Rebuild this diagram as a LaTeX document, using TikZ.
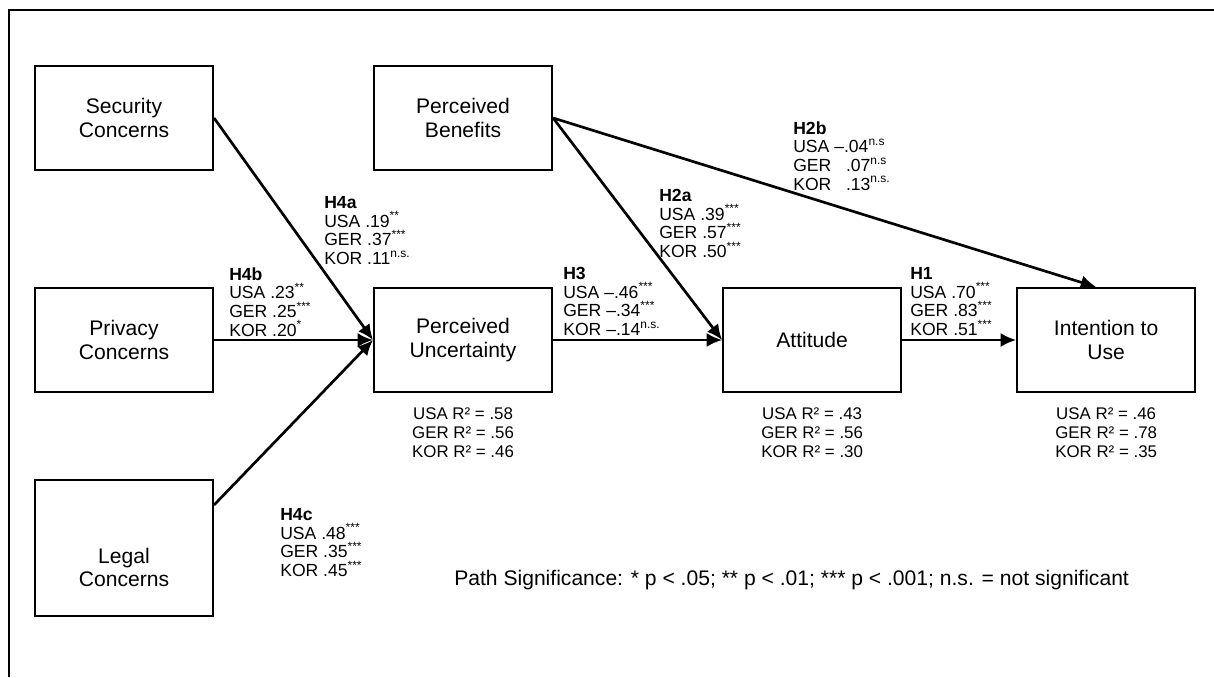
\documentclass[tikz,border=0pt]{standalone}
\usepackage{fontspec}
\setmainfont{Liberation Sans}
\usetikzlibrary{arrows.meta, positioning}

\newcommand{\boxfont}{\fontsize{15}{16.5}\selectfont}
\newcommand{\coeffont}{\fontsize{12.5}{13.3}\selectfont}
\newcommand{\rsqfont}{\fontsize{12}{13.3}\selectfont}
\newcommand{\notefont}{\fontsize{15}{17}\selectfont}
\newcommand{\sig}[1]{\raisebox{0.42em}{\fontsize{8.5}{9}\selectfont #1}}

\begin{document}
\begin{tikzpicture}[
  x=0.025cm, y=-0.025cm,
  >={Latex[length=11pt, width=10pt]},
  construct/.style = {draw, line width=1.4pt, rectangle, minimum width=4.45cm,
                      minimum height=2.6cm, align=center, font=\boxfont},
  path/.style      = {->, line width=1.9pt},
  coef/.style      = {anchor=north west, align=left, inner sep=0pt, font=\coeffont},
  rsq/.style       = {align=center, inner sep=0pt, font=\rsqfont},
]
  \useasboundingbox (0,0) rectangle (1214,677);
  % frame, only its top and left sides are in view
  \draw[line width=2.1pt] (9,677) -- (9,10) -- (1214,10);

  \node[construct]                          (privacy)   at (124,340) {Privacy\\Concerns};
  \node[construct, above=2.9cm of privacy]  (security)  {Security\\Concerns};
  % legal box is taller, its text sits low
  \node[construct, below=2.15cm of privacy, minimum height=3.4cm] (legal)
    {\rule{0pt}{39pt}Legal\\Concerns};
  \node[construct, right=3.975cm of privacy] (uncert)   {Perceived\\Uncertainty};
  \node[construct]                          (benefits)  at (uncert |- security) {Perceived\\Benefits};
  \node[construct, right=4.225cm of uncert] (attitude)  {Attitude};
  \node[construct, right=2.85cm of attitude] (intention) {Intention to\\Use};

  \draw[path] (security.east)    -- (uncert.west);
  \draw[path] (privacy)          -- (uncert);
  \draw[path] ([yshift=-0.65cm]legal.north east) -- (uncert.west);
  \draw[path] (uncert)           -- (attitude);
  \draw[path] (attitude)         -- (intention);
  \draw[path] (benefits.east)    -- (attitude.west);
  \draw[path] (benefits.east)    -- ([xshift=-0.25cm]intention.north);

  % path coefficients
  \node[coef] (h4a) at (324,196) {\textbf{H4a}\\USA .19\sig{**}\\GER .37\sig{***}\\KOR .11\sig{n.s.}};
  \node[coef] (h4b) at (229,267) {\textbf{H4b}\\USA .23\sig{**}\\GER .25\sig{***}\\KOR .20\sig{*}};
  \node[coef] (h4c) at (280,508) {\textbf{H4c}\\USA .48\sig{***}\\GER .35\sig{***}\\KOR .45\sig{***}};
  \node[coef] (h3)  at (563,267) {\textbf{H3}\\USA –.46\sig{***}\\GER –.34\sig{***}\\KOR –.14\sig{n.s.}};
  \node[coef] (h2a) at (659,189) {\textbf{H2a}\\USA .39\sig{***}\\GER .57\sig{***}\\KOR .50\sig{***}};
  \node[coef] (h2b) at (793,121) {\textbf{H2b}\\USA –.04\sig{n.s}\\GER \phantom{–}.07\sig{n.s}\\KOR \phantom{–}.13\sig{n.s.}};
  \node[coef] (h1)  at (910,267) {\textbf{H1}\\USA .70\sig{***}\\GER .83\sig{***}\\KOR .51\sig{***}};

  % explained variance
  \node[rsq, below=0.37cm of uncert]    (r2unc) {USA R² = .58\\GER R² = .56\\KOR R² = .46};
  \node[rsq, below=0.37cm of attitude]  (r2att) {USA R² = .43\\GER R² = .56\\KOR R² = .30};
  \node[rsq, below=0.37cm of intention] (r2int) {USA R² = .46\\GER R² = .78\\KOR R² = .35};

  \node[anchor=west, inner sep=0pt, font=\notefont] (note) at (454,580)
    {Path Significance: * p < .05; ** p < .01; *** p < .001; n.s. = not significant};
\end{tikzpicture}
\end{document}
